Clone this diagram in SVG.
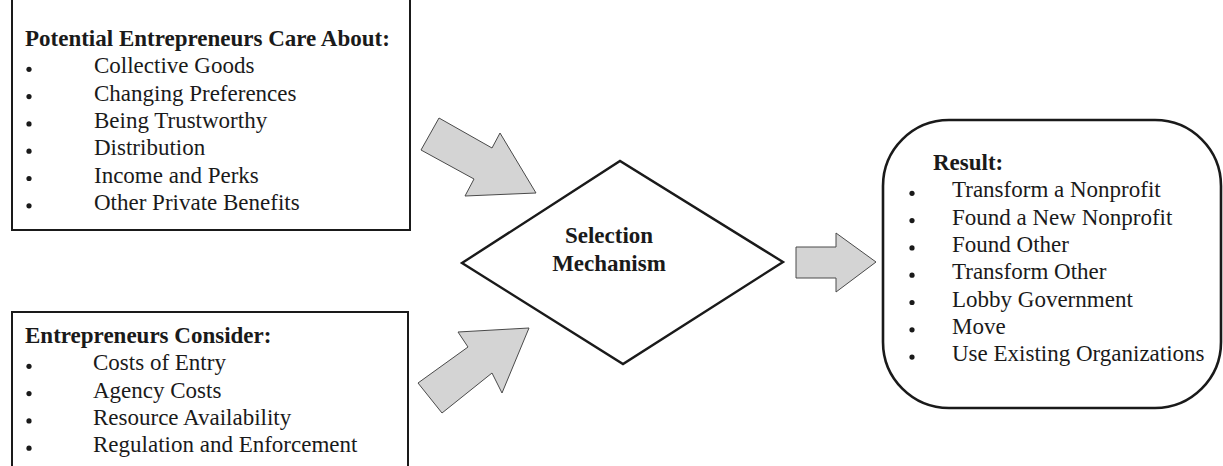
<svg xmlns="http://www.w3.org/2000/svg" width="1223" height="466" viewBox="0 0 1223 466">
  <style>
    .box { fill: #ffffff; stroke: #1a1a1a; stroke-width: 2; }
    .result { fill: #ffffff; stroke: #1a1a1a; stroke-width: 2.6; }
    .diamond { fill: #ffffff; stroke: #1a1a1a; stroke-width: 2.4; stroke-linejoin: miter; }
    .flow { fill: #d4d4d4; stroke: #4a4a4a; stroke-width: 1; stroke-linejoin: miter; }
    .t { font-family: "Liberation Serif", "Times New Roman", serif; font-size: 23px; fill: #1a1a1a; }
    .b { font-weight: bold; }
    .dot { fill: #1a1a1a; }
  </style>

  <rect width="1223" height="466" fill="#ffffff"/>

  <!-- Connectors: block arrows feeding the selection mechanism and its outcome -->
  <g id="connectors">
    <polygon class="flow" points="421,150 439,118 492,148 500,133 536,193 465,196 474,179"/>
    <polygon class="flow" points="418,383 442,413 492,373 502,393 529,328 458,332 468,347"/>
    <polygon class="flow" points="796,247 836,247 836,233 876,262 836,292 836,278 796,278"/>
  </g>

  <!-- Motivations box (top edge runs off the page) -->
  <g id="care-about">
    <rect class="box" x="12" y="-10" width="398" height="240"/>
    <text class="t b" x="25" y="46">Potential Entrepreneurs Care About:</text>
    <g class="dot">
      <circle cx="29" cy="69.3" r="2.6"/>
      <circle cx="29" cy="96.6" r="2.6"/>
      <circle cx="29" cy="123.9" r="2.6"/>
      <circle cx="29" cy="151.2" r="2.6"/>
      <circle cx="29" cy="178.5" r="2.6"/>
      <circle cx="29" cy="205.8" r="2.6"/>
    </g>
    <text class="t" x="94" y="73.3">Collective Goods</text>
    <text class="t" x="94" y="100.6">Changing Preferences</text>
    <text class="t" x="94" y="127.9">Being Trustworthy</text>
    <text class="t" x="94" y="155.2">Distribution</text>
    <text class="t" x="94" y="182.5">Income and Perks</text>
    <text class="t" x="94" y="209.8">Other Private Benefits</text>
  </g>

  <!-- Constraints box (bottom edge runs off the page) -->
  <g id="consider">
    <rect class="box" x="12" y="312" width="396" height="170"/>
    <text class="t b" x="25" y="343">Entrepreneurs Consider:</text>
    <g class="dot">
      <circle cx="29" cy="366.3" r="2.6"/>
      <circle cx="29" cy="393.6" r="2.6"/>
      <circle cx="29" cy="420.9" r="2.6"/>
      <circle cx="29" cy="448.2" r="2.6"/>
    </g>
    <text class="t" x="93" y="370.3">Costs of Entry</text>
    <text class="t" x="93" y="397.6">Agency Costs</text>
    <text class="t" x="93" y="424.9">Resource Availability</text>
    <text class="t" x="93" y="452.2">Regulation and Enforcement</text>
  </g>

  <!-- Decision diamond -->
  <g id="selection">
    <polygon class="diamond" points="462,263 620,161 783,262 623,364"/>
    <text class="t b" x="609" y="243.3" text-anchor="middle">Selection</text>
    <text class="t b" x="609" y="270.7" text-anchor="middle">Mechanism</text>
  </g>

  <!-- Outcomes -->
  <g id="result">
    <rect class="result" x="883" y="120" width="338" height="288" rx="66" ry="66"/>
    <text class="t b" x="933" y="170">Result:</text>
    <g class="dot">
      <circle cx="912" cy="193.3" r="2.6"/>
      <circle cx="912" cy="220.6" r="2.6"/>
      <circle cx="912" cy="247.9" r="2.6"/>
      <circle cx="912" cy="275.2" r="2.6"/>
      <circle cx="912" cy="302.5" r="2.6"/>
      <circle cx="912" cy="329.8" r="2.6"/>
      <circle cx="912" cy="357.1" r="2.6"/>
    </g>
    <text class="t" x="952" y="197.3">Transform a Nonprofit</text>
    <text class="t" x="952" y="224.6">Found a New Nonprofit</text>
    <text class="t" x="952" y="251.9">Found Other</text>
    <text class="t" x="952" y="279.2">Transform Other</text>
    <text class="t" x="952" y="306.5">Lobby Government</text>
    <text class="t" x="952" y="333.8">Move</text>
    <text class="t" x="952" y="361.1">Use Existing Organizations</text>
  </g>
</svg>
